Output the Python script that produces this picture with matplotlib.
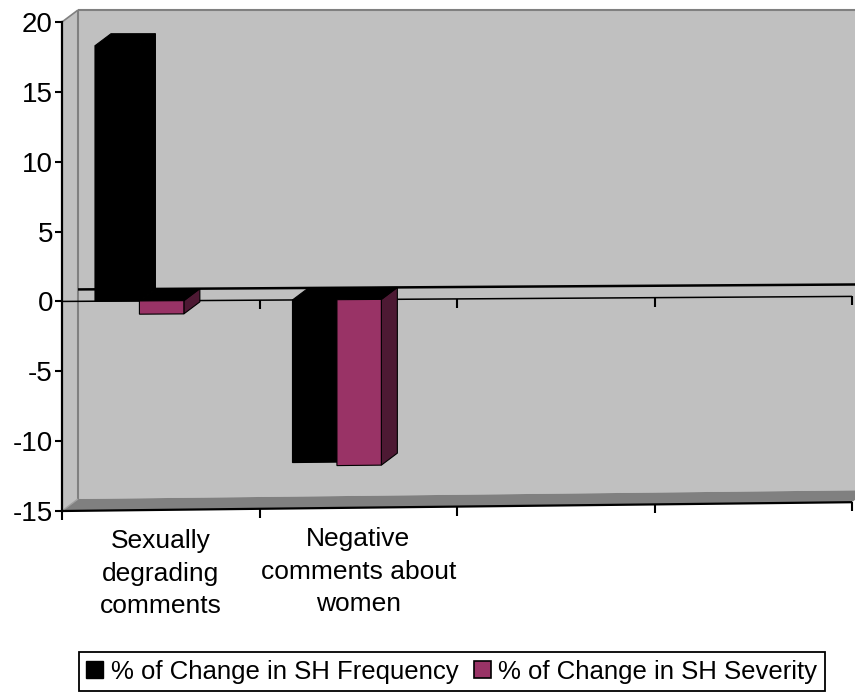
import numpy as np
import matplotlib
matplotlib.use("Agg")
import matplotlib.pyplot as plt
from matplotlib.patches import Polygon, Patch

plt.rcParams["font.family"] = ["Liberation Sans", "DejaVu Sans"]

# ---- data -------------------------------------------------------------
categories = ["Sexually\ndegrading\ncomments", "Negative\ncomments about\nwomen", "", ""]
freq_change = [18.3, -11.7, None, None]
sev_change = [-0.95, -11.95, None, None]
series_names = ["% of Change in SH Frequency", "% of Change in SH Severity"]
y_ticks = [20, 15, 10, 5, 0, -5, -10, -15]

# ---- styling ------------------------------------------------------------
face_colors = ["#000000", "#993366"]
side_colors = ["#000000", "#4D1933"]
wall_color = "#C0C0C0"
floor_color = "#808080"
edge_gray = "#808080"

W, H = 855, 694
fig = plt.figure(figsize=(W / 100, H / 100), dpi=100)
x0_px, x1_px, ytop_px, ybot_px = 62, 852, 22, 511
ax = fig.add_axes([x0_px / W, 1 - ybot_px / H, (x1_px - x0_px) / W, (ybot_px - ytop_px) / H])

n_cat = len(categories)
y_min, y_max = min(y_ticks), max(y_ticks)
ax.set_xlim(0, n_cat)
ax.set_ylim(y_min, y_max)
ax.patch.set_visible(False)

# pixel -> data unit helpers
px_x = n_cat / (x1_px - x0_px)
px_y = (y_max - y_min) / (ybot_px - ytop_px)
DX, DV = 16 * px_x, 12 * px_y      # depth offset of the back plane
K = 0.018                          # slight perspective shrink to the right


def proj(x, v, back=0):
    vv = y_max - (y_max - v) * (1 - K * x / n_cat)
    return (x + DX * back, vv + DV * back)


def poly(pts, fc, ec="none", lw=0.0, z=1):
    ax.add_patch(Polygon(pts, closed=True, facecolor=fc, edgecolor=ec,
                         linewidth=lw, zorder=z, clip_on=False, joinstyle="miter"))


def seg(p, q, color="black", lw=1.0, z=2):
    ax.plot([p[0], q[0]], [p[1], q[1]], color=color, lw=lw, zorder=z,
            clip_on=False, solid_capstyle="butt")


# walls and floor
poly([proj(0, y_max, 1), proj(n_cat, y_max, 1), proj(n_cat, y_min, 1), proj(0, y_min, 1)], wall_color, z=0.5)
poly([proj(0, y_max, 0), proj(0, y_max, 1), proj(0, y_min, 1), proj(0, y_min, 0)], wall_color, z=0.6)
poly([proj(0, y_min, 0), proj(0, y_min, 1), proj(n_cat, y_min, 1), proj(n_cat, y_min, 0)], floor_color, z=0.6)
seg(proj(0, y_max, 1), proj(0, y_min, 1), edge_gray, 1.5, 0.7)
seg(proj(0, y_max, 1), proj(n_cat, y_max, 1), edge_gray, 1.5, 0.7)
seg(proj(0, y_max, 0), proj(0, y_max, 1), edge_gray, 1.2, 0.7)
seg(proj(0, y_min, 0), proj(0, y_min, 1), "#A0A0A0", 1.0, 0.7)

# zero lines: back wall and front plane
seg(proj(0, 0, 1), proj(n_cat, 0, 1), "black", 1.8, 0.8)
seg(proj(0, 0, 0), proj(n_cat, 0, 0), "black", 1.1, 0.8)
tick_len = 9 * px_y
for i in range(1, n_cat + 1):
    p = proj(i, 0, 0)
    seg(p, (p[0], p[1] - tick_len), "black", 1.5, 0.8)

# 3-D columns
group_start, bar_w = 0.167, 0.225
for i in range(n_cat):
    for s, vals in enumerate([freq_change, sev_change]):
        v = vals[i]
        if v is None:
            continue
        xl = i + group_start + s * bar_w
        xr = xl + bar_w
        z = 2 + i * 0.1 + s * 0.01
        ec = "black"
        top = max(v, 0)
        # right side face
        poly([proj(xr, 0, 0), proj(xr, 0, 1), proj(xr, v, 1), proj(xr, v, 0)],
             side_colors[s], ec, 0.8, z)
        # top face
        top_color = face_colors[s] if v > 0 else "#000000"
        poly([proj(xl, top, 0), proj(xr, top, 0), proj(xr, top, 1), proj(xl, top, 1)],
             top_color, ec, 0.8, z)
        # front face
        poly([proj(xl, 0, 0), proj(xr, 0, 0), proj(xr, v, 0), proj(xl, v, 0)],
             face_colors[s], ec, 0.8, z + 0.001)

# category axis along the front edge of the floor
seg(proj(0, y_min, 0), proj(n_cat, y_min, 0), "black", 1.6, 3)
for i in range(0, n_cat + 1):
    p = proj(i, y_min, 0)
    seg(p, (p[0], p[1] - tick_len), "black", 1.5, 3)
for i, lab in enumerate(categories):
    if lab:
        ax.annotate(lab, xy=proj(i + 0.5, y_min, 0), xytext=(0, -14),
                    textcoords="offset points", ha="center", va="top",
                    multialignment="center", fontsize=19, linespacing=1.45,
                    annotation_clip=False)

# value axis
for side in ["top", "right", "bottom"]:
    ax.spines[side].set_visible(False)
ax.spines["left"].set_linewidth(1.6)
ax.spines["left"].set_zorder(3)
ax.set_yticks(y_ticks)
ax.set_yticklabels([str(t) for t in y_ticks])
ax.tick_params(axis="y", direction="out", length=5, width=1.5, pad=1.5, labelsize=20)
ax.set_xticks([])

# legend
handles = [Patch(facecolor=face_colors[0], edgecolor="black", linewidth=1),
           Patch(facecolor=face_colors[1], edgecolor="black", linewidth=1.2)]
leg = fig.legend(handles, series_names, loc="center right", ncol=2,
                 bbox_to_anchor=(825 / W, 1 - 671.5 / H), frameon=True, fancybox=False,
                 edgecolor="black", framealpha=1, fontsize=18.5, handlelength=0.65,
                 handleheight=0.65, handletextpad=0.3, columnspacing=0.6,
                 borderpad=0.3, borderaxespad=0)
leg.get_frame().set_linewidth(1.3)

fig.savefig("out.png", dpi=100, facecolor="white")
